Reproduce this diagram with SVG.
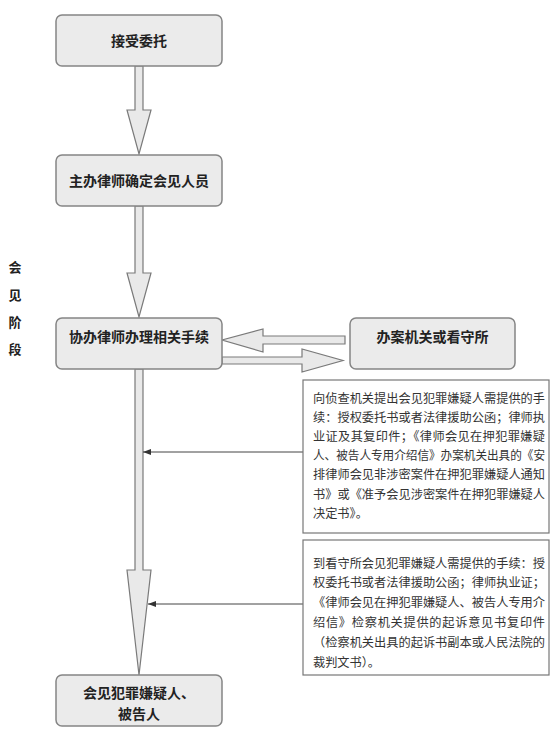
<svg xmlns="http://www.w3.org/2000/svg" width="556" height="729" viewBox="0 0 556 729">
<style>
.box{fill:#ebebeb;stroke:#858585;stroke-width:1.5}
.lbl{font-family:"Noto Sans CJK SC","Noto Sans",sans-serif;font-size:14px;font-weight:bold;fill:#222;text-anchor:middle}
.arr{fill:#e9e9e9;stroke:#7a7a7a;stroke-width:1.2;stroke-linejoin:miter}
.note{fill:#fff;stroke:#777;stroke-width:1.2}
.nt{font-family:"Noto Sans CJK SC","Noto Sans",sans-serif;font-size:12.2px;fill:#333}
.side{font-family:"Noto Sans CJK SC","Noto Sans",sans-serif;font-size:13px;font-weight:bold;fill:#222;text-anchor:middle}
.lead{stroke:#444;stroke-width:1;fill:none}
</style>
<defs>
<marker id="ah" viewBox="0 0 8 6" refX="8" refY="3" markerWidth="8" markerHeight="6" markerUnits="userSpaceOnUse" orient="auto">
<path d="M0,0 L8,3 L0,6 Z" fill="#333"/>
</marker>
</defs>
<rect width="556" height="729" fill="#fff"/>
<g id="side-label">
<text class="side" x="15" y="272">会</text>
<text class="side" x="15" y="300">见</text>
<text class="side" x="15" y="327">阶</text>
<text class="side" x="15" y="354">段</text>
</g>
<g id="connectors">
<path class="arr" d="M135,66 L143,66 L143,110 L151,110 L139,154 L127,110 L135,110 Z"/>
<path class="arr" d="M135,206 L143,206 L143,273 L151,273 L139,317 L127,273 L135,273 Z"/>
<path class="arr" d="M135,369 L143,369 L143,570 L151,570 L139,675 L127,570 L135,570 Z"/>
<path class="arr" d="M345,336 L263,336 L263,329 L222,340 L263,352 L263,344 L345,344 Z"/>
<path class="arr" d="M222,357 L302,357 L302,349 L343,360.5 L302,372 L302,364 L222,364 Z"/>
<line class="lead" x1="303" y1="452" x2="143" y2="452" marker-end="url(#ah)"/>
<line class="lead" x1="303" y1="604" x2="148" y2="604" marker-end="url(#ah)"/>
</g>
<g id="n1">
<rect class="box" x="56" y="15" width="166" height="51" rx="6"/>
<text class="lbl" x="139" y="45.5">接受委托</text>
</g>
<g id="n2">
<rect class="box" x="56" y="155" width="166" height="51" rx="6"/>
<text class="lbl" x="139" y="186">主办律师确定会见人员</text>
</g>
<g id="n3">
<rect class="box" x="56" y="318" width="166" height="51" rx="6"/>
<text class="lbl" x="139" y="342">协办律师办理相关手续</text>
</g>
<g id="n4">
<rect class="box" x="350" y="318" width="165" height="51" rx="6"/>
<text class="lbl" x="432.5" y="342">办案机关或看守所</text>
</g>
<g id="n5">
<rect class="box" x="56" y="675" width="166" height="51" rx="6"/>
<text class="lbl" x="139" y="698">会见犯罪嫌疑人、</text>
<text class="lbl" x="139" y="719">被告人</text>
</g>
<g id="note1">
<rect class="note" x="303" y="380" width="246" height="153"/>
<text class="nt" x="313" y="402.5" textLength="232" lengthAdjust="spacing">向侦查机关提出会见犯罪嫌疑人需提供的手</text>
<text class="nt" x="313" y="421.7" textLength="232" lengthAdjust="spacing">续：授权委托书或者法律援助公函；律师执</text>
<text class="nt" x="313" y="440.9" textLength="232" lengthAdjust="spacing">业证及其复印件；《律师会见在押犯罪嫌疑</text>
<text class="nt" x="313" y="460.1" textLength="232" lengthAdjust="spacingAndGlyphs">人、被告人专用介绍信》办案机关出具的《安</text>
<text class="nt" x="313" y="479.3" textLength="232" lengthAdjust="spacing">排律师会见非涉密案件在押犯罪嫌疑人通知</text>
<text class="nt" x="313" y="498.5" textLength="232" lengthAdjust="spacing">书》或《准予会见涉密案件在押犯罪嫌疑人</text>
<text class="nt" x="313" y="517.7">决定书》。</text>
</g>
<g id="note2">
<rect class="note" x="303" y="540" width="246" height="135"/>
<text class="nt" x="313" y="567.5" textLength="232" lengthAdjust="spacing">到看守所会见犯罪嫌疑人需提供的手续：授</text>
<text class="nt" x="313" y="587.3" textLength="232" lengthAdjust="spacing">权委托书或者法律援助公函；律师执业证；</text>
<text class="nt" x="313" y="607.1" textLength="232" lengthAdjust="spacing">《律师会见在押犯罪嫌疑人、被告人专用介</text>
<text class="nt" x="313" y="626.9" textLength="232" lengthAdjust="spacing">绍信》检察机关提供的起诉意见书复印件</text>
<text class="nt" x="313" y="646.7" textLength="232" lengthAdjust="spacing">（检察机关出具的起诉书副本或人民法院的</text>
<text class="nt" x="313" y="666.5">裁判文书）。</text>
</g>
</svg>
